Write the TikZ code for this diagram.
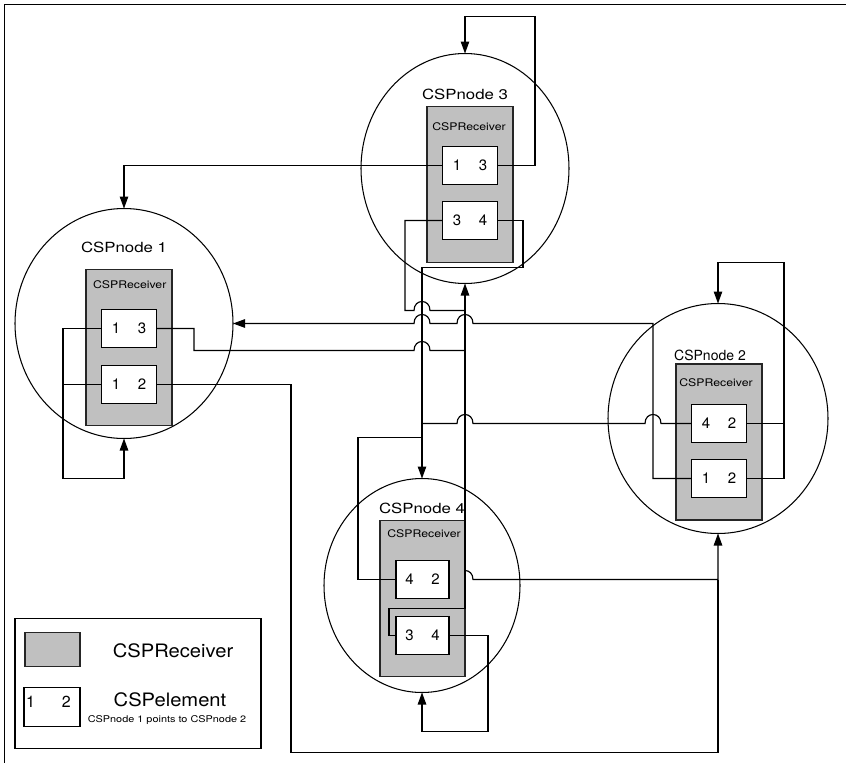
\documentclass[tikz,border=0pt]{standalone}
\usepackage{fontspec}
\setmainfont{TeX Gyre Heros}
\usetikzlibrary{arrows.meta,shapes.geometric}
\definecolor{recvgray}{RGB}{192,192,192}
\pgfdeclarelayer{under}
\pgfsetlayers{under,main}
% line hop over a crossing vertical wire at x=#1 on the horizontal y=#2
\newcommand\hopR[2]{-- (#1-8,#2) .. controls (#1-8,#2-12) and (#1+8,#2-12) .. (#1+8,#2)}
\newcommand\hopL[2]{-- (#1+8,#2) .. controls (#1+8,#2-12) and (#1-8,#2-12) .. (#1-8,#2)}

\begin{document}
\begin{tikzpicture}[x=1pt,y=-1pt,
  wire/.style={line width=1.15pt, line join=miter},
  arrowed/.style={wire,-{Triangle[length=12pt,width=8.5pt]}},
  nodering/.style={ellipse, draw, line width=1.05pt, inner sep=0pt, outer sep=0pt},
  receiver/.style={draw=black!85, fill=recvgray, line width=1.3pt,
    minimum width=86pt, minimum height=156pt, inner sep=0pt, outer sep=0pt},
  element/.style={draw, fill=white, line width=1.2pt, minimum width=55pt,
    minimum height=38pt, inner sep=0pt, outer sep=0pt,
    font=\fontsize{15}{15}\selectfont},
  nodetitle/.style={anchor=base, inner sep=0pt, font=\fontsize{14}{14}\selectfont},
  recvtitle/.style={anchor=base, inner sep=0pt, font=\fontsize{10.5}{10.5}\selectfont, xscale=1.17},
]
\useasboundingbox (0,0) rectangle (846,763);

\begin{scope}[shift={(0,0.5)}]
% frame
\draw[line width=1.6pt] (4.5,763) -- (4.5,4) -- (846,4);

% CSP nodes
\node[nodering, minimum width=218pt, minimum height=230pt] (c1) at (124,323) {};
\node[nodering, minimum width=220pt, minimum height=230pt] (c2) at (718,418) {};
\node[nodering, minimum width=208pt, minimum height=230pt] (c3) at (465,168) {};
\node[nodering, minimum width=196pt, minimum height=214pt] (c4) at (422,585) {};

% receivers
\node[receiver] (r1) at (129,347) {};
\node[receiver] (r3) at (470,184) {};
\node[receiver] (r2) at (719,441.5) {};
\node[receiver, minimum width=85pt] (r4) at (422.5,598) {};

% elements
\node[element] (e1a) at (129,328) {1\hspace{17.7pt}3};
\node[element] (e1b) at (129,384) {1\hspace{17.7pt}2};
\node[element] (e3a) at (470,165) {1\hspace{17.7pt}3};
\node[element] (e3b) at (470,220) {3\hspace{17.7pt}4};
\node[element] (e2a) at (719,423) {4\hspace{17.7pt}2};
\node[element] (e2b) at (719,478) {1\hspace{17.7pt}2};
\node[element, minimum width=53pt] (e4a) at (422.5,579) {4\hspace{17.7pt}2};
\node[element, minimum width=53pt] (e4b) at (422.5,635) {3\hspace{17.7pt}4};

% titles
\node[nodetitle, xscale=1.2] (t1) at (124,252) {CSPnode 1};
\node[nodetitle, xscale=1.2] (t3) at (465,99) {CSPnode 3};
\node[nodetitle] (t2) at (710,360) {CSPnode 2};
\node[nodetitle, xscale=1.2] (t4) at (422,513) {CSPnode 4};
\node[recvtitle] (rt1) at (129.7,287.5) {CSPReceiver};
\node[recvtitle] (rt3) at (469,130) {CSPReceiver};
\node[recvtitle] (rt2) at (716,386) {CSPReceiver};
\node[recvtitle] (rt4) at (424,536.5) {CSPReceiver};

% junction on the wire into CSPnode 2 from below
\coordinate (j2) at (718,579);

% connectors
\begin{pgfonlayer}{under}
  \draw[arrowed] (e4a.east) \hopR{465}{579} -| (c2.south);
\end{pgfonlayer}

\draw[arrowed] (e3a.east) -- (535,165) -- (535,16) -| (c3.north);
\draw[arrowed] (e3a.west) -| (c1.north);
\draw[arrowed] (e3b.east) -- (523,220) -- (523,267) -| (c4.north);
\draw[wire] (e3b.west) -- (405,220) -- (405,310) \hopR{422}{310} -- (465,310);
\draw[wire] (e1a.east) -- (194,328) -- (194,350) \hopR{422}{350} -- (465,350);
\draw[arrowed] (e4b.west) -- (389,635) -- (389,608) -- (465,608) -- (c3.south);
\draw[arrowed] (e2b.west) -- (653,478) -- (653,323) \hopL{465}{323} \hopL{422}{323} -- (c1.east);
\draw[wire] (e2a.west) \hopL{653}{423} \hopL{465}{423} -- (422,423);
\draw[wire] (e4a.west) -- (358,579) -- (358,437) -- (422,437);
\draw[wire] (e1b.east) -- (291,384) -- (291,752) -| (j2);
\draw[arrowed] (e2b.east) -- (784,478) -- (784,262) -| (c2.north);
\draw[wire] (e2a.east) -- (784,423);
\draw[arrowed] (e1a.west) -- (63,328) -- (63,478) -| (c1.south);
\draw[wire] (e1b.west) -- (63,384);
\draw[arrowed] (e4b.east) -- (488,635) -- (488,731) -| (c4.south);

% legend
\node[draw, line width=1.2pt, minimum width=246pt, minimum height=130pt, inner sep=0pt] (legend) at (138,683) {};
\node[draw=black!85, fill=recvgray, line width=1.3pt, minimum width=55pt, minimum height=34pt, inner sep=0pt] (lgrecv) at (52.5,649) {};
\node[anchor=base, inner sep=0pt, font=\fontsize{18.5}{18.5}\selectfont, xscale=1.09] (lgrecvtext) at (173,656.7) {CSPReceiver};
\node[draw, fill=white, line width=1.2pt, minimum width=56pt, minimum height=39pt, inner sep=0pt] (lgelem) at (52,706.5) {};
\node[anchor=base, inner sep=0pt, font=\fontsize{16}{16}\selectfont] (lgdigits) at (48.5,706.7) {1\hspace{27pt}2};
\node[anchor=base, inner sep=0pt, font=\fontsize{18.5}{18.5}\selectfont, xscale=1.09] (lgelemtext) at (170,706) {CSPelement};
\node[anchor=base, inner sep=0pt, font=\fontsize{9.3}{9.3}\selectfont, xscale=1.17] (lgnote) at (167,721.7) {CSPnode 1 points to CSPnode 2};
\end{scope}
\end{tikzpicture}
\end{document}
